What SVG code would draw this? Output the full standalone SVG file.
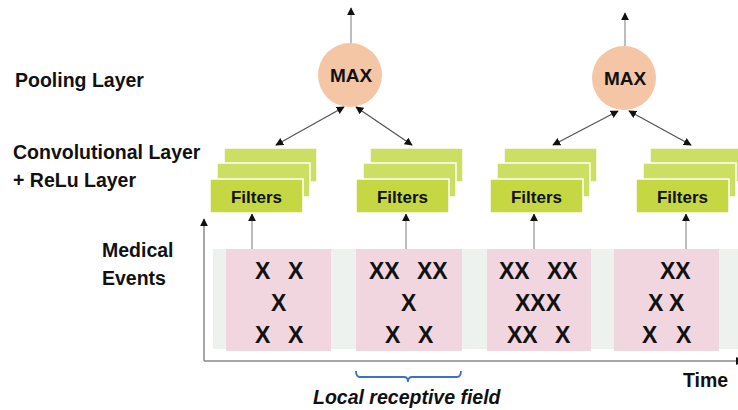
<svg xmlns="http://www.w3.org/2000/svg" width="738" height="410" viewBox="0 0 738 410">
  <defs>
    <marker id="tip" viewBox="0 0 10 10" refX="9" refY="5" markerWidth="8" markerHeight="8" markerUnits="userSpaceOnUse" orient="auto-start-reverse">
      <path d="M0,0 L10,5 L0,10 z" fill="#111"/>
    </marker>
    <g id="stack">
      <rect class="filt back" x="14" y="-31" width="93" height="34"/>
      <rect class="filt back" x="7" y="-16" width="93" height="34"/>
      <rect class="filt" x="0" y="0" width="93" height="34"/>
    </g>
  </defs>
  <style>
    text { font-family: "Liberation Sans", Arial, sans-serif; font-weight: bold; fill: #111; }
    .lbl { font-size: 19.5px; }
    .ftxt { font-size: 17px; text-anchor: middle; }
    .mtxt { font-size: 19px; text-anchor: middle; }
    .x { font-size: 23px; }
    .filt { fill: #c5d844; stroke: #ffffff; stroke-width: 1.5; }
    .back { fill: #cddf62; }
    .pool { fill: #f5c6a6; }
    .ev { fill: #f2d6df; }
    .link { stroke: #555; stroke-width: 1.3; fill: none; }
    .up { stroke: #999; stroke-width: 1.3; fill: none; }
    .axis { stroke: #888; stroke-width: 1.5; fill: none; }
  </style>

  <rect width="738" height="410" fill="#ffffff"/>

  <!-- layer labels -->
  <g id="labels">
    <text class="lbl" x="15" y="87">Pooling Layer</text>
    <text class="lbl" x="13" y="159">Convolutional Layer</text>
    <text class="lbl" x="13" y="187">+ ReLu Layer</text>
    <text class="lbl" x="102" y="257">Medical</text>
    <text class="lbl" x="102" y="285">Events</text>
    <text class="lbl" x="683" y="387">Time</text>
    <text class="lbl" x="313" y="404" font-style="italic">Local receptive field</text>
  </g>

  <!-- time strip behind the event windows -->
  <rect x="213" y="249" width="525" height="100" fill="#edf2ef"/>

  <!-- axes -->
  <g id="axes">
    <path class="axis" d="M204,361 V219" marker-end="url(#tip)"/>
    <path class="axis" d="M204,361 H743" marker-end="url(#tip)"/>
  </g>

  <!-- connectors -->
  <g id="connectors">
    <path class="up" d="M252,249 V214" marker-end="url(#tip)"/>
    <path class="up" d="M406,249 V214" marker-end="url(#tip)"/>
    <path class="up" d="M534,249 V214" marker-end="url(#tip)"/>
    <path class="up" d="M686,249 V214" marker-end="url(#tip)"/>
    <path class="link" d="M276,145 L344,107" marker-start="url(#tip)" marker-end="url(#tip)"/>
    <path class="link" d="M412,145 L356,107" marker-start="url(#tip)" marker-end="url(#tip)"/>
    <path class="link" d="M553,145 L618,111" marker-start="url(#tip)" marker-end="url(#tip)"/>
    <path class="link" d="M691,145 L629,111" marker-start="url(#tip)" marker-end="url(#tip)"/>
    <path class="up" d="M351,43 V8" marker-end="url(#tip)"/>
    <path class="up" d="M625,47 V13" marker-end="url(#tip)"/>
  </g>

  <!-- pooling nodes -->
  <g id="max1">
    <circle class="pool" cx="350" cy="75" r="32"/>
    <text class="mtxt" x="351" y="82">MAX</text>
  </g>
  <g id="max2">
    <circle class="pool" cx="624" cy="78" r="32"/>
    <text class="mtxt" x="625" y="85">MAX</text>
  </g>

  <!-- convolution filter stacks -->
  <g id="filters1">
    <use href="#stack" x="210" y="179"/>
    <text class="ftxt" x="256.5" y="203">Filters</text>
  </g>
  <g id="filters2">
    <use href="#stack" x="356" y="179"/>
    <text class="ftxt" x="402.5" y="203">Filters</text>
  </g>
  <g id="filters3">
    <use href="#stack" x="490" y="179"/>
    <text class="ftxt" x="536.5" y="203">Filters</text>
  </g>
  <g id="filters4">
    <use href="#stack" x="636" y="179"/>
    <text class="ftxt" x="682.5" y="203">Filters</text>
  </g>

  <!-- medical event windows -->
  <g id="events1">
    <rect class="ev" x="226" y="249" width="105" height="102"/>
    <text class="x" x="255" y="279">X</text>
    <text class="x" x="288" y="279">X</text>
    <text class="x" x="271" y="311">X</text>
    <text class="x" x="255" y="343">X</text>
    <text class="x" x="288" y="343">X</text>
  </g>
  <g id="events2">
    <rect class="ev" x="356" y="249" width="106" height="102"/>
    <text class="x" x="369" y="279">XX</text>
    <text class="x" x="417" y="279">XX</text>
    <text class="x" x="401" y="311">X</text>
    <text class="x" x="385" y="343">X</text>
    <text class="x" x="418" y="343">X</text>
  </g>
  <g id="events3">
    <rect class="ev" x="487" y="249" width="104" height="102"/>
    <text class="x" x="499" y="279">XX</text>
    <text class="x" x="547" y="279">XX</text>
    <text class="x" x="515" y="311">XXX</text>
    <text class="x" x="507" y="343">XX</text>
    <text class="x" x="555" y="343">X</text>
  </g>
  <g id="events4">
    <rect class="ev" x="614" y="249" width="105" height="102"/>
    <text class="x" x="660" y="279">XX</text>
    <text class="x" x="648" y="311">X</text>
    <text class="x" x="669" y="311">X</text>
    <text class="x" x="642" y="343">X</text>
    <text class="x" x="676" y="343">X</text>
  </g>

  <!-- receptive field brace -->
  <g id="brace">
    <path d="M356,371 Q356,377 360,377 H404 Q408,377 408,382 Q408,377 412,377 H457 Q461,377 461,371" fill="none" stroke="#3f6fc6" stroke-width="1.8"/>
  </g>
</svg>
